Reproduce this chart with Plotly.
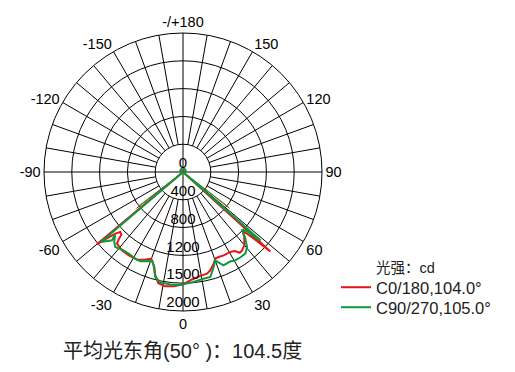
import plotly.graph_objects as go

# C0/180 curve (angle in degrees, intensity in cd)
red_theta = [-180, -150, -120, -90, -60, -52, -50, -47.7, -46.3, -44.5, -43.8, -42.7, -38, -33, -27.7,
             -23.3, -20.1, -19.3, -16.8, -15, -12.5, -8.9, -4.7, 0.3, 4.5, 9.5, 13.3, 15.5, 18.5,
             20.5, 22.7, 26, 30.6, 33.2, 35.1, 37, 39.9, 43.3, 45.3, 46.1, 46.7, 47.2, 47.7, 49.5,
             60, 90, 120, 150, 180]
red_r = [20, 20, 20, 15, 10, 0, 1617, 1317, 1249, 1265, 1333, 1401, 1429, 1430, 1424,
         1372, 1330, 1347, 1428, 1539, 1640, 1665, 1650, 1615, 1555, 1515, 1502, 1468, 1390,
         1330, 1326, 1334, 1337, 1360, 1420, 1411, 1375, 1285, 1207, 1278, 1396, 1516, 1700, 0,
         10, 15, 20, 20, 20]

# C90/270 curve
green_theta = [-180, -150, -120, -90, -65, -53, -49.5, -46.1, -47.3, -44.5, -42.1, -37.2, -33.7, -28.8,
               -25.6, -19.2, -17.5, -14.8, -11.7, -6.5, -1.4, 3.8, 5.5, 10.9, 14.6, 17.9, 20.1,
               21.2, 23.5, 27.7, 30.6, 34, 37.4, 40.5, 43.1, 45.6, 47.3, 48, 48.6, 51,
               65, 90, 120, 150, 180]
green_r = [55, 50, 45, 35, 20, 0, 1550, 1418, 1330, 1411, 1453, 1414, 1411, 1423,
           1425, 1356, 1408, 1563, 1620, 1630, 1625, 1595, 1590, 1563, 1561, 1436, 1353,
           1390, 1464, 1455, 1477, 1480, 1478, 1419, 1312, 1200, 1252, 1433, 1490, 0,
           20, 35, 45, 50, 55]

# half-beam-angle markers (thin lines from the centre)
red_beam_theta = [52, 0, -52]
red_beam_r = [850, 0, 850]
green_beam_theta = [52.5, 0, -52.5]
green_beam_r = [815, 0, 815]

ring_values = [0, 400, 800, 1200, 1600, 2000]
ring_labels = ["0", "400", "800", "1200", "1500", "2000"]
angle_ticks = list(range(0, 360, 10))
angle_names = {0: "0", 30: "30", 60: "60", 90: "90", 120: "120", 150: "150", 180: "-/+180",
               210: "-150", 240: "-120", 270: "-90", 300: "-60", 330: "-30"}
angle_text = [angle_names.get(a, "") for a in angle_ticks]

FONT = "Liberation Sans, Arial, Noto Sans CJK SC, sans-serif"
RED = "#e8141c"
GREEN = "#0b9a3a"

fig = go.Figure()

# spokes every 10 degrees, outside the inner ring
sp_t, sp_r = [], []
for a in angle_ticks:
    if a % 90 != 0:
        sp_t += [a, a, None]
        sp_r += [ring_values[1], ring_values[-1], None]
fig.add_trace(go.Scatterpolar(theta=sp_t, r=sp_r, mode="lines", line=dict(color="black", width=1),
                              hoverinfo="skip", showlegend=False))
# main cross through center
cr_t, cr_r = [], []
for a in [0, 90]:
    cr_t += [a, a, a + 180, None]
    cr_r += [ring_values[-1], 0, ring_values[-1], None]
fig.add_trace(go.Scatterpolar(theta=cr_t, r=cr_r, mode="lines", line=dict(color="black", width=1),
                              hoverinfo="skip", showlegend=False))

fig.add_trace(go.Scatterpolar(theta=red_beam_theta, r=red_beam_r, mode="lines",
                              line=dict(color=RED, width=1), hoverinfo="skip", showlegend=False))
fig.add_trace(go.Scatterpolar(theta=green_beam_theta, r=green_beam_r, mode="lines",
                              line=dict(color=GREEN, width=1), hoverinfo="skip", showlegend=False))

fig.add_trace(go.Scatterpolar(theta=red_theta, r=red_r, mode="lines", name="C0/180,104.0°",
                              line=dict(color=RED, width=2), legend="legend"))
fig.add_trace(go.Scatterpolar(theta=green_theta, r=green_r, mode="lines", name="C90/270,105.0°",
                              line=dict(color=GREEN, width=2), legend="legend2"))

# radial labels along the 0 direction
fig.add_trace(go.Scatterpolar(theta=[0] * len(ring_values), r=ring_values, mode="text",
                              text=ring_labels, textposition="top center",
                              textfont=dict(size=15, color="black", family=FONT),
                              hoverinfo="skip", showlegend=False))

W, H = 515, 372
cx, cy, R = 183, 172, 139
legend_style = dict(xanchor="left", yanchor="top", font=dict(size=16.5, color="#222", family=FONT),
                    bgcolor="rgba(0,0,0,0)", itemwidth=30)
fig.update_layout(
    width=W, height=H,
    margin=dict(l=0, r=0, t=0, b=0),
    paper_bgcolor="white",
    font=dict(family=FONT, color="black"),
    polar=dict(
        domain=dict(x=[(cx - R) / W, (cx + R) / W], y=[(H - cy - R) / H, (H - cy + R) / H]),
        bgcolor="white",
        angularaxis=dict(direction="counterclockwise", rotation=-90, tickmode="array",
                         tickvals=angle_ticks, ticktext=angle_text, showgrid=False,
                         showline=True, linecolor="black", linewidth=1, ticks="",
                         tickfont=dict(size=14.5, color="black")),
        radialaxis=dict(range=[0, 2000], tickvals=ring_values[1:], showticklabels=False,
                        showgrid=True, gridcolor="black", gridwidth=1, showline=False, ticks=""),
    ),
    legend=dict(x=336 / W, y=(H - 270) / H, **legend_style),
    legend2=dict(x=336 / W, y=(H - 290) / H, **legend_style),
    annotations=[
        dict(text="光强：cd", x=374 / W, y=(H - 268) / H, xref="paper", yref="paper",
             xanchor="left", yanchor="middle", showarrow=False,
             font=dict(size=14.5, color="#222", family=FONT)),
        dict(text="平均光东角(50° )：104.5度", x=61 / W, y=(H - 351) / H, xref="paper", yref="paper",
             xanchor="left", yanchor="middle", showarrow=False,
             font=dict(size=20, color="#222", family=FONT)),
    ],
)

fig.write_html("out.html", config={"displayModeBar": False},
               post_script="document.body.style.margin='0px';")
